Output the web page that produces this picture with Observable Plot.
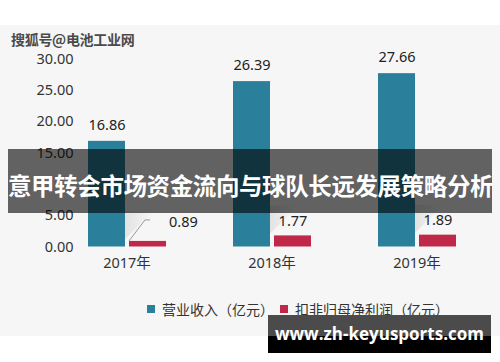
<!DOCTYPE html>
<html><head><meta charset="utf-8">
<script src="https://cdn.jsdelivr.net/npm/d3@7"></script>
<script src="https://cdn.jsdelivr.net/npm/@observablehq/plot@0.6"></script>
<style>
html,body{margin:0;padding:0;background:#fff;}
#wrap{position:relative;width:500px;height:362px;overflow:hidden;font-family:"Noto Sans","Noto Sans CJK SC",sans-serif;}
#bg{position:absolute;left:0;top:25px;width:500px;height:311px;background:#f6f6f6;}
#chart{position:absolute;left:0;top:0;}
#wm{position:absolute;left:11px;top:29px;font-size:14px;font-weight:700;color:#4a4a4a;font-family:"Noto Sans CJK SC",sans-serif;letter-spacing:-0.3px;}
#legend{position:absolute;left:147px;top:299px;font-size:14px;color:#333;font-family:"Noto Sans CJK SC",sans-serif;display:flex;align-items:center;white-space:nowrap;}
#legend .sw{display:inline-block;width:8px;height:8px;margin-right:7px;}
#legend .it{display:flex;align-items:center;margin-right:6px;}
#banner{position:absolute;left:8px;top:149px;width:484px;height:64px;background:rgba(0,0,0,0.6);}
#banner span{position:absolute;left:0;width:484px;top:0;line-height:72px;text-align:center;color:#fff;font-size:23.5px;font-weight:700;letter-spacing:-0.4px;font-family:"Noto Sans CJK SC",sans-serif;white-space:nowrap;}
#site1{position:absolute;left:268px;top:315px;width:223px;height:21px;background:#4b4b4b;}
#site2{position:absolute;left:268px;top:336px;width:223px;height:17px;background:#000;}
#site{position:absolute;left:268px;top:322px;width:223px;text-align:center;color:#fff;font-size:17px;font-weight:700;font-family:"Open Sans",sans-serif;line-height:24px;white-space:nowrap;}
</style></head><body>
<div id="wrap">
  <div id="bg"></div>
  <div id="chart"></div>
  <div id="wm"></div>
  <div id="legend"></div>
  <div id="banner"><span id="bannerText"></span></div>
  <div id="site1"></div><div id="site2"></div>
  <div id="site"></div>
</div>
<script>
const years = ["2017", "2018", "2019"];
const revenue = [16.86, 26.39, 27.66];
const netProfit = [0.89, 1.77, 1.89];
const seriesKeys = ["rev", "np"];
const seriesNames = ["营业收入（亿元）", "扣非归母净利润（亿元）"];
const seriesColors = ["#2a7f9a", "#c0284a"];
const yTicks = [0, 5, 15, 20, 25, 30]; // 10.00 is hidden behind the banner in the reference
const titleText = "意甲转会市场资金流向与球队长远发展策略分析";
const watermark = "搜狐号@电池工业网";
const siteText = "www.zh-keyusports.com";

const rows = years.flatMap((y, i) => [
  {year: y, series: "rev", value: revenue[i]},
  {year: y, series: "np", value: netProfit[i]}
]);
const revRows = rows.filter(d => d.series === "rev");
const npRows = rows.filter(d => d.series === "np");
const font = "'Noto Sans','Noto Sans CJK SC',sans-serif";

const shadowMark = Plot.dot(npRows, {fx: "year", x: "series", y: "value", render: (I, scales, values) => {
  const g = d3.create("svg:g");
  const gid = "shg" + Math.random().toString(36).slice(2);
  const grad = g.append("defs").append("linearGradient").attr("id", gid).attr("x1", 0).attr("x2", 1).attr("y1", 0).attr("y2", 0);
  grad.append("stop").attr("offset", 0).attr("stop-color", "#c4c4c4").attr("stop-opacity", 0.75);
  grad.append("stop").attr("offset", 1).attr("stop-color", "#d0d0d0").attr("stop-opacity", 0);
  for (const i of I) {
    const x = values.x[i], y = values.y[i];
    const xl = x - 21;
    g.append("path")
      .attr("d", `M${xl - 3},${y - 1}L${xl - 3},${y - 30}L${xl + 46},${y - 30}L${xl + 16},${y - 1}Z`)
      .attr("fill", `url(#${gid})`);
  }
  return g.node();
}});

const chart = Plot.plot({
  width: 500, height: 362,
  marginTop: 58.5, marginBottom: 115.5, marginLeft: 57, marginRight: 13,
  style: {background: "transparent", fontFamily: font, color: "#333"},
  fx: {domain: years, paddingInner: 0.452, paddingOuter: 0.2, label: null},
  x: {domain: seriesKeys, paddingInner: 0.1, paddingOuter: 0, axis: null},
  y: {domain: [0, 30], label: null},
  color: {domain: seriesKeys, range: seriesColors},
  marks: [
    shadowMark,
    Plot.axisY({ticks: yTicks, tickSize: 0, tickPadding: 14, tickFormat: d => d.toFixed(2), fontSize: 14.5, label: null, fill: "#333"}),
    Plot.axisFx({anchor: "bottom", tickSize: 0, tickPadding: 11, tickFormat: d => d + "年", fontSize: 14.5, label: null, fill: "#333"}),
    Plot.barY(rows, {fx: "year", x: "series", y: "value", fill: "series"}),
    Plot.text(revRows, {fx: "year", x: "series", y: "value", text: d => d.value.toFixed(2), dy: -16, fontSize: 14.5, fill: "#222"}),
    Plot.text(npRows.filter(d => d.value >= 1), {fx: "year", x: "series", y: "value", text: d => d.value.toFixed(2), dy: -14.5, fontSize: 14.5, fill: "#222"}),
    Plot.text(npRows.filter(d => d.value < 1), {fx: "year", x: "series", y: "value", text: d => d.value.toFixed(2), dx: 21, dy: -19, textAnchor: "start", fontSize: 14.5, fill: "#222"}),
    Plot.dot(npRows.filter(d => d.value < 1), {fx: "year", x: "series", y: "value", render: (I, scales, values) => {
      const g = d3.create("svg:g");
      for (const i of I) {
        const x = values.x[i], y = values.y[i];
        g.append("path").attr("d", `M${x},${y}L${x + 16},${y - 21}L${x + 21},${y - 21}`)
          .attr("fill", "none").attr("stroke", "#999").attr("stroke-width", 1);
      }
      return g.node();
    }})
  ]
});
document.getElementById("chart").append(chart);

document.getElementById("wm").textContent = watermark;
document.getElementById("bannerText").textContent = titleText;
document.getElementById("site").textContent = siteText;
const lg = document.getElementById("legend");
seriesNames.forEach((n, i) => {
  const it = document.createElement("span"); it.className = "it";
  const sw = document.createElement("span"); sw.className = "sw"; sw.style.background = seriesColors[i];
  it.append(sw, document.createTextNode(n));
  lg.append(it);
});
</script>
</body></html>
